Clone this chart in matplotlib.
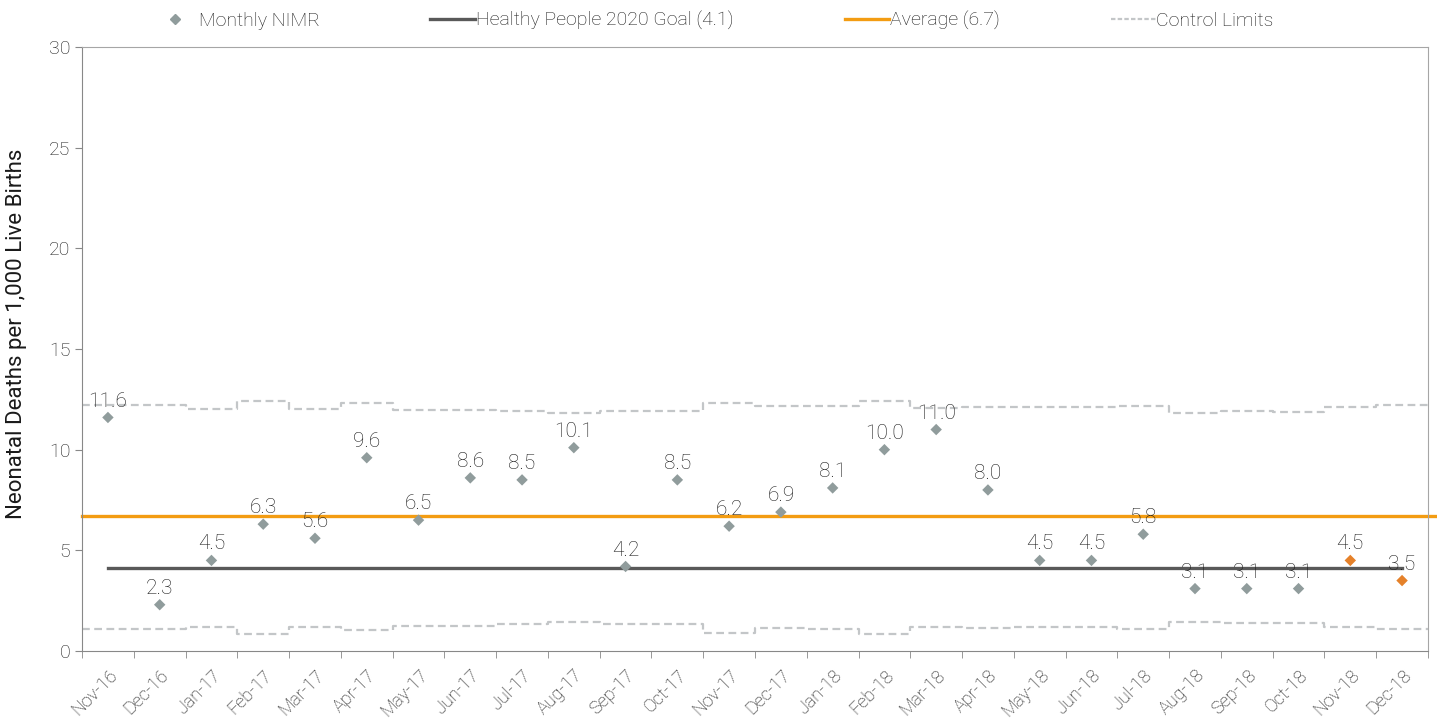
import numpy as np
import matplotlib
matplotlib.use('Agg')
import matplotlib.pyplot as plt
from matplotlib.lines import Line2D

plt.rcParams['font.family'] = ['Roboto', 'DejaVu Sans']
plt.rcParams['font.weight'] = 'light'

# chart data
months = ['Nov-16', 'Dec-16', 'Jan-17', 'Feb-17', 'Mar-17', 'Apr-17', 'May-17',
          'Jun-17', 'Jul-17', 'Aug-17', 'Sep-17', 'Oct-17', 'Nov-17', 'Dec-17',
          'Jan-18', 'Feb-18', 'Mar-18', 'Apr-18', 'May-18', 'Jun-18', 'Jul-18',
          'Aug-18', 'Sep-18', 'Oct-18', 'Nov-18', 'Dec-18']
nimr = [11.6, 2.3, 4.5, 6.3, 5.6, 9.6, 6.5, 8.6, 8.5, 10.1, 4.2, 8.5, 6.2, 6.9,
        8.1, 10.0, 11.0, 8.0, 4.5, 4.5, 5.8, 3.1, 3.1, 3.1, 4.5, 3.5]
ucl = [12.2, 12.2, 12.0, 12.4, 12.0, 12.3, 11.97, 11.97, 11.92, 11.8, 11.9, 11.9,
       12.34, 12.17, 12.17, 12.4, 12.08, 12.1, 12.1, 12.1, 12.17, 11.8, 11.9,
       11.85, 12.1, 12.2]
lcl = [1.11, 1.11, 1.2, 0.85, 1.2, 1.04, 1.26, 1.26, 1.32, 1.46, 1.32, 1.32,
       0.91, 1.14, 1.08, 0.85, 1.21, 1.16, 1.2, 1.2, 1.09, 1.46, 1.39, 1.39,
       1.2, 1.09]
goal = 4.1
average = 6.7
recent = ['Nov-18', 'Dec-18']

grey_pt = '#909c9c'
orange_pt = '#e5812a'
text_col = '#1a1a1a'

fig = plt.figure(figsize=(14.37, 7.22), dpi=100)
ax = fig.add_axes([0.0571, 0.0983, 0.9366, 0.8366])

x = np.arange(len(months))
colors = [orange_pt if m in recent else grey_pt for m in months]

# control limits as steps across each month
edges = np.arange(len(months) + 1) - 0.5
ax.step(edges, ucl + [ucl[-1]], where='post', color='#c3c6c8', lw=1.6,
        ls=(0, (3.5, 2)), zorder=1)
ax.step(edges, lcl + [lcl[-1]], where='post', color='#c3c6c8', lw=1.6,
        ls=(0, (3.5, 2)), zorder=1)

# goal and average
ax.plot([x[0], x[-1]], [goal, goal], color='#595959', lw=2.4, zorder=2)
ax.plot([-0.5, len(months) - 0.3], [average, average], color='#f39c12',
        lw=2.4, zorder=2, clip_on=False)

ax.scatter(x, nimr, marker='D', s=34, c=colors, zorder=3, linewidths=0)
for xi, v in zip(x, nimr):
    ax.annotate('{0:.1f}'.format(v), (xi, v), xytext=(0, 5),
                textcoords='offset points', ha='center', va='bottom',
                fontsize=15, color=text_col)

ax.set_xlim(-0.5, len(months) - 0.5)
ax.set_ylim(0, 30)
ax.set_yticks([0, 5, 10, 15, 20, 25, 30])
ax.set_xticks(x)
ax.set_xticklabels(months, rotation=45, ha='right', rotation_mode='anchor',
                   fontsize=13, color=text_col)
ax.set_xticks(edges, minor=True)
ax.tick_params(axis='x', which='major', length=0, pad=11)
ax.tick_params(axis='x', which='minor', length=5, color='#888888')
ax.tick_params(axis='y', length=5, color='#888888', labelsize=14,
               labelcolor=text_col)
ax.set_ylabel('Neonatal Deaths per 1,000 Live Births', fontsize=16,
              color=text_col)
ax.yaxis.set_label_coords(-0.041, 0.525)

for side in ['left', 'bottom']:
    ax.spines[side].set_color('#888888')
for side in ['top', 'right']:
    ax.spines[side].set_color('#a6a6a6')

handles = [
    Line2D([], [], marker='D', ls='none', color=grey_pt, markersize=5),
    Line2D([], [], color='#595959', lw=2.4),
    Line2D([], [], color='#f39c12', lw=2.4),
    Line2D([], [], color='#c3c6c8', lw=1.6, ls=(0, (2, 1))),
]
labels = ['Monthly NIMR', 'Healthy People 2020 Goal (4.1)', 'Average (6.7)',
          'Control Limits']
fig.legend(handles, labels, loc='center', bbox_to_anchor=(0.4965, 0.971),
           ncol=4, frameon=False, fontsize=14, handlelength=2.3,
           handletextpad=0.05, columnspacing=5.7, labelcolor=text_col)

plt.savefig('out.png', dpi=100)
